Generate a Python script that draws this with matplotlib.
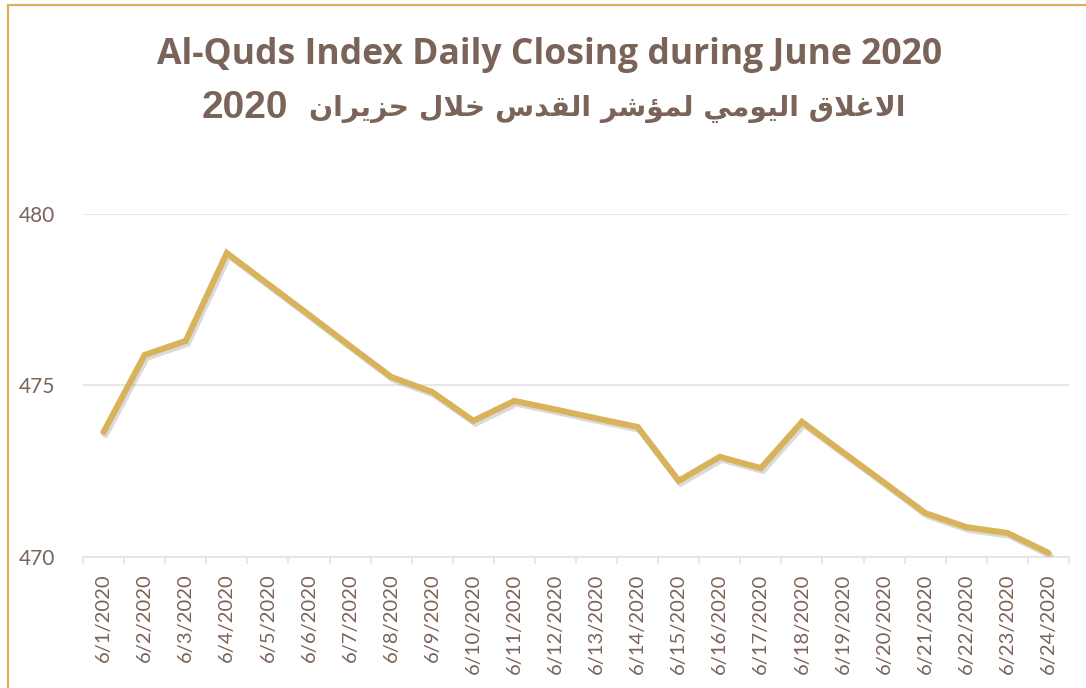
import matplotlib
matplotlib.use("Agg")
import matplotlib.pyplot as plt
import matplotlib.patheffects as pe
from matplotlib.patches import Rectangle
from matplotlib.ticker import FixedLocator

# daily closing values of the Al-Quds index, June 2020
dates = [f"6/{d}/2020" for d in range(1, 25)]
closing = [473.64, 475.89, 476.30, 478.86, 477.96, 477.06, 476.15, 475.25,
           474.81, 473.97, 474.55, 474.30, 474.04, 473.79, 472.22, 472.92,
           472.59, 473.94, 473.05, 472.17, 471.28, 470.87, 470.70, 470.12]
y_ticks = [470, 475, 480]

title_en = "Al-Quds Index Daily Closing during June 2020"
title_ar_words = ["الاغلاق", "اليومي", "لمؤشر", "القدس", "خلال", "حزيران"]
title_ar_year = "2020"

TEXT = "#7a6358"
GOLD = "#d9b35c"
GRID = "#e9e3e0"

# matplotlib has no arabic shaping, so pick the presentation forms by hand
# (isolated, final, initial, medial)
FORMS = {
    "ا": ("\uFE8D", "\uFE8E", None, None),
    "ل": ("\uFEDD", "\uFEDE", "\uFEDF", "\uFEE0"),
    "غ": ("\uFECD", "\uFECE", "\uFECF", "\uFED0"),
    "ق": ("\uFED5", "\uFED6", "\uFED7", "\uFED8"),
    "ي": ("\uFEF1", "\uFEF2", "\uFEF3", "\uFEF4"),
    "و": ("\uFEED", "\uFEEE", None, None),
    "م": ("\uFEE1", "\uFEE2", "\uFEE3", "\uFEE4"),
    "ؤ": ("\uFE85", "\uFE86", None, None),
    "ش": ("\uFEB5", "\uFEB6", "\uFEB7", "\uFEB8"),
    "ر": ("\uFEAD", "\uFEAE", None, None),
    "د": ("\uFEA9", "\uFEAA", None, None),
    "س": ("\uFEB1", "\uFEB2", "\uFEB3", "\uFEB4"),
    "خ": ("\uFEA5", "\uFEA6", "\uFEA7", "\uFEA8"),
    "ح": ("\uFEA1", "\uFEA2", "\uFEA3", "\uFEA4"),
    "ز": ("\uFEAF", "\uFEB0", None, None),
    "ن": ("\uFEE5", "\uFEE6", "\uFEE7", "\uFEE8"),
}


def shape(word):
    res = []
    prev = False
    i = 0
    while i < len(word):
        c = word[i]
        if c == "ل" and i + 1 < len(word) and word[i + 1] == "ا":
            res.append("\uFEFC" if prev else "\uFEFB")  # lam-alef ligature
            prev = False
            i += 2
            continue
        iso, fin, ini, med = FORMS[c]
        nxt = i + 1 < len(word) and ini is not None
        if prev and nxt:
            g = med
        elif prev:
            g = fin
        elif nxt:
            g = ini
        else:
            g = iso
        res.append(g)
        prev = ini is not None
        i += 1
    return "".join(res)


# visual order, right to left
title_ar = " ".join(shape(w)[::-1] for w in reversed(title_ar_words))

fig = plt.figure(figsize=(10.86, 6.88), dpi=100)
fig.patches.append(Rectangle((8 / 1086, -0.1), 1.2, 1.1 - 5 / 688,
                             transform=fig.transFigure, fill=False,
                             edgecolor=GOLD, lw=1.6))

ax = fig.add_axes([83 / 1086, 1 - 557 / 688, (1069 - 83) / 1086, (557 - 214) / 688])

x = list(range(len(dates)))
ax.plot(x, closing, color=GOLD, lw=4.4, solid_capstyle="round", solid_joinstyle="miter",
        path_effects=[pe.SimpleLineShadow(offset=(1.5, -2), shadow_color="#888888", alpha=0.3),
                      pe.Normal()], zorder=3)

ax.set_xlim(-0.5, len(dates) - 0.5)
ax.set_ylim(470, 480)
ax.set_yticks(y_ticks)
ax.set_yticklabels([str(v) for v in y_ticks])
ax.set_xticks(x)
ax.set_xticklabels(dates, rotation=90)
ax.xaxis.set_minor_locator(FixedLocator([i - 0.5 for i in range(len(dates) + 1)]))

ax.tick_params(axis="x", which="major", length=0, pad=12, labelsize=14.5, labelcolor=TEXT)
ax.tick_params(axis="x", which="minor", length=5, width=1.2, color=GRID)
ax.tick_params(axis="y", length=0, pad=20, labelsize=15, labelcolor=TEXT)
for lab in ax.get_xticklabels() + ax.get_yticklabels():
    lab.set_family("Lato")

for s in ["top", "right", "left"]:
    ax.spines[s].set_visible(False)
ax.spines["bottom"].set_color(GRID)
ax.spines["bottom"].set_linewidth(1.2)
ax.grid(axis="y", color=GRID, lw=1.2)
ax.set_axisbelow(True)

fig.text(0.506, 1 - 64 / 688, title_en, ha="center", va="baseline",
         fontsize=25.6, fontweight="bold", family="Open Sans", color=TEXT)
fig.text(905 / 1086, 1 - 116 / 688, title_ar, ha="right", va="baseline",
         fontsize=20.3, fontweight="bold", family="DejaVu Sans", color=TEXT)
fig.text(288 / 1086, 1 - 118 / 688, title_ar_year, ha="right", va="baseline",
         fontsize=28, fontweight="bold", family="Liberation Sans", color=TEXT)

fig.savefig("out.png", dpi=100)
